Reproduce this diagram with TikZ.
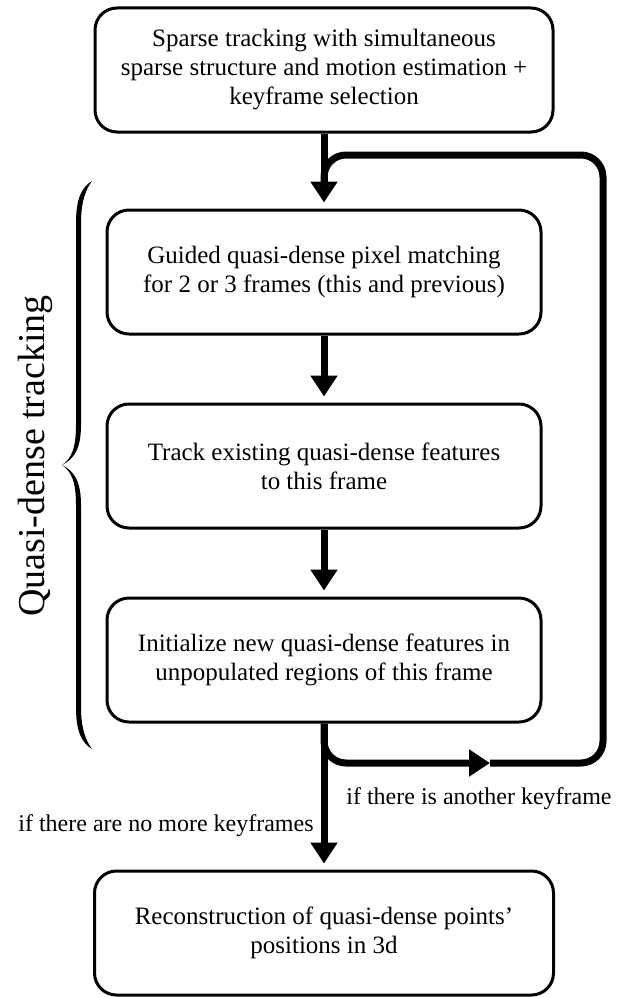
\documentclass[tikz,border=0pt]{standalone}
\usepackage{fontspec}
\setmainfont{Liberation Serif}
\usetikzlibrary{arrows.meta}

\tikzset{
	stage/.style={draw, line width=3pt, rounded corners=22pt, align=center,
		font=\fontsize{25}{29}\selectfont, minimum height=124pt, inner sep=0pt},
	flow/.style={line width=7pt, -{Triangle[length=21pt,width=26pt]}, shorten >=6pt},
	back/.style={line width=7pt, rounded corners=22pt},
	cond/.style={font=\fontsize{24}{28}\selectfont}
}

\begin{document}
\begin{tikzpicture}[x=1pt,y=-1pt]
	\useasboundingbox (0,0) rectangle (627,998);
	\node[stage, minimum width=458pt] (sparse) at (324,70) {Sparse tracking with simultaneous\\sparse structure and motion estimation +\\keyframe selection};
	\node[stage, minimum width=434pt] (match) at (324,272) {Guided quasi-dense pixel matching\\for 2 or 3 frames (this and previous)};
	\node[stage, minimum width=434pt] (track) at (324,466) {Track existing quasi-dense features\\to this frame};
	\node[stage, minimum width=434pt] (init) at (324,660) {Initialize new quasi-dense features in\\unpopulated regions of this frame};
	\node[stage, minimum width=459pt] (recon) at (324,933) {Reconstruction of quasi-dense points’\\positions in 3d};
	% loop corners
	\coordinate (turn) at (490,763);
	\coordinate (loopBR) at (603,763);
	\coordinate (loopTR) at (603,155);
	\coordinate (loopTL) at (324,155);
	\coordinate (join) at (324,185);
	\draw[flow] (sparse) -- (match);
	\draw[flow] (match) -- (track);
	\draw[flow] (track) -- (init);
	\draw[flow] (init) -- (recon);
	\draw[back, -{Triangle[length=21pt,width=26pt]}] (init.south) |- (turn);
	\draw[back] (turn) -- (loopBR) -- (loopTR) -- (loopTL) -- (join);
	\node[cond] (more) at (479,799) {if there is another keyframe};
	\node[cond] (done) at (166,826) {if there are no more keyframes};
	% brace, one half mirrored
	\foreach \s in {1,-1}
		\fill[shift={(0,465)}, yscale=\s] (62,0) .. controls (71,-6) and (76,-16) .. (76,-40)
			-- (76,-242) .. controls (76,-267) and (82,-278) .. (92,-284)
			.. controls (86,-276) and (81,-264) .. (81,-242)
			-- (81,-40) .. controls (81,-16) and (74,-6) .. (62,0) -- cycle;
	\node[rotate=90, font=\fontsize{38}{40}\selectfont] (qd) at (35,456) {Quasi-dense tracking};
\end{tikzpicture}
\end{document}
